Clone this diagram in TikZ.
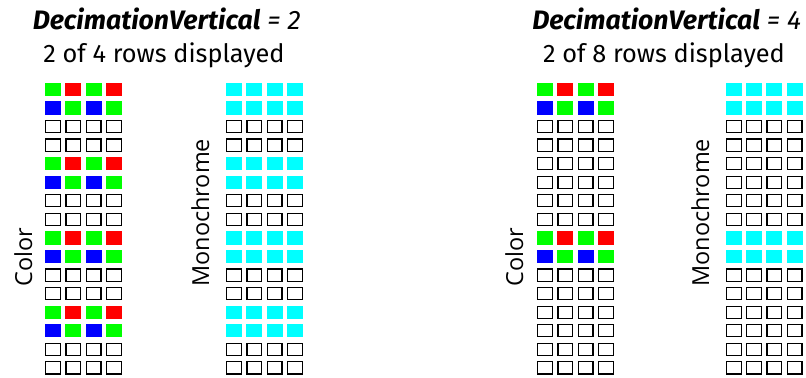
\documentclass[tikz,border=0pt]{standalone}
\usepackage{fontspec}
\setmainfont{Fira Sans}
\newfontfamily\labelfont{Open Sans}
\definecolor{pxgreen}{RGB}{0,255,0}
\definecolor{pxred}{RGB}{255,0,0}
\definecolor{pxblue}{RGB}{0,0,255}
\definecolor{pxcyan}{RGB}{0,255,255}
\tikzset{
  titletext/.style={anchor=base, inner sep=0pt, font=\fontsize{20pt}{22pt}\selectfont},
  subtext/.style={anchor=base, inner sep=0pt, font=\fontsize{19pt}{22pt}\selectfont},
  sidetext/.style={anchor=base west, rotate=90, inner sep=0pt, font=\labelfont\fontsize{17.6pt}{20pt}\selectfont},
  emptycell/.style={draw=black, line width=0.9pt, fill=white},
}
\newcommand\pxcolorgrid[2]{%
  \foreach \j in {0,...,15}{%
    \pgfmathtruncatemacro\m{mod(\j,#2)}%
    \ifnum\m=0
      \foreach \i/\c in {0/pxgreen,1/pxred,2/pxgreen,3/pxred}{\fill[\c] ({#1+20.3*\i},{82.7+18.57*\j}) rectangle ++(16,13.3);}
    \else\ifnum\m=1
      \foreach \i/\c in {0/pxblue,1/pxgreen,2/pxblue,3/pxgreen}{\fill[\c] ({#1+20.3*\i},{82.7+18.57*\j}) rectangle ++(16,13.3);}
    \else
      \foreach \i in {0,...,3}{\draw[emptycell] ({#1+20.3*\i+0.6},{82.7+18.57*\j+0.6}) rectangle ++(14.8,12.1);}
    \fi\fi
  }}
\newcommand\pxmonogrid[2]{%
  \foreach \j in {0,...,15}{%
    \pgfmathtruncatemacro\m{mod(\j,#2)}%
    \ifnum\m<2
      \foreach \i in {0,...,3}{\fill[pxcyan] ({#1+20.3*\i},{82.7+18.57*\j}) rectangle ++(16,13.3);}
    \else
      \foreach \i in {0,...,3}{\draw[emptycell] ({#1+20.3*\i+0.6},{82.7+18.57*\j+0.6}) rectangle ++(14.8,12.1);}
    \fi
  }}
\begin{document}
\begin{tikzpicture}[x=0.75pt,y=-0.75pt]
\useasboundingbox[fill=white] (0,0) rectangle (806,378);
% left panel
\node[titletext] (titleL) at (166.7,30) {\textbf{\textit{DecimationVertical}} \textit{= 2}};
\node[subtext] (subL) at (164,63) {2 of 4 rows displayed};
\pxcolorgrid{45}{4}
\pxmonogrid{226}{4}
\node[sidetext] (colorL) at (32,287) {Color};
\node[sidetext] (monoL) at (209,287) {Monochrome};
% right panel
\node[titletext] (titleR) at (666.7,30) {\textbf{\textit{DecimationVertical}} \textit{= 4}};
\node[subtext] (subR) at (664,63) {2 of 8 rows displayed};
\pxcolorgrid{537}{8}
\pxmonogrid{725.7}{8}
\node[sidetext] (colorR) at (523,287) {Color};
\node[sidetext] (monoR) at (709,287) {Monochrome};
\end{tikzpicture}
\end{document}
